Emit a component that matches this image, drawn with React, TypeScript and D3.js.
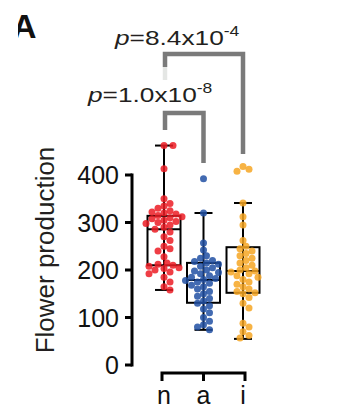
import React, { useEffect, useRef } from 'react'
import * as d3 from 'd3'

// groups and colours
const groups = ['n', 'a', 'i']
const colors = ['#ec1c24', '#2150a3', '#f6a623']

// flower production values
const valuesN = [462, 462, 413, 350, 340, 335, 330, 325, 322, 320, 318, 315, 312, 310, 308, 305, 302, 300, 298, 295, 290, 286, 280, 270, 262, 250, 245, 240, 228, 215, 212, 210, 208, 205, 203, 200, 196, 192, 185, 175, 165, 158]
const valuesA = [392, 320, 257, 242, 230, 225, 220, 218, 215, 212, 208, 205, 200, 198, 195, 192, 188, 185, 182, 180, 178, 175, 172, 168, 165, 160, 155, 150, 145, 140, 135, 130, 125, 118, 110, 100, 92, 85, 80, 74]
const valuesI = [418, 412, 408, 341, 312, 295, 262, 250, 245, 240, 235, 230, 225, 220, 215, 210, 205, 200, 198, 196, 192, 188, 185, 180, 175, 170, 165, 160, 155, 152, 150, 142, 130, 120, 88, 80, 70, 62, 57]

// box stats: [whiskerLow, q1, median, q3, whiskerHigh]
const boxN = [158, 210, 286, 314, 462]
const boxA = [74, 131, 179, 215, 320]
const boxI = [55, 152, 198, 248, 341]

const yTicks = [0, 100, 200, 300, 400]

const W = 338
const H = 409

const App: React.FC = () => {
    const svgRef = useRef<SVGSVGElement | null>(null)

    useEffect(() => {
        if (!svgRef.current) return
        const svg = d3.select(svgRef.current)
        svg.selectAll('*').remove()

        const y = d3.scaleLinear().domain([0, 400]).range([365, 175])
        const x = d3.scalePoint<string>().domain(groups).range([164, 243])
        const allValues = [valuesN, valuesA, valuesI]
        const boxes = [boxN, boxA, boxI]
        const font = 'Liberation Sans, Arial, sans-serif'

        // panel letter, cut at left like the source
        svg.append('clipPath').attr('id', 'clipA').append('rect')
            .attr('x', 18).attr('y', 0).attr('width', 40).attr('height', 50)
        svg.append('text')
            .attr('clip-path', 'url(#clipA)')
            .attr('x', 12).attr('y', 38)
            .attr('font-family', font).attr('font-weight', 'bold')
            .attr('font-size', 34).attr('fill', '#111')
            .text('A')

        // y axis
        const yAxis = svg.append('g')
        yAxis.append('line')
            .attr('x1', 132).attr('x2', 132)
            .attr('y1', y(400) - 1.5).attr('y2', y(0) + 1.5)
            .attr('stroke', '#000').attr('stroke-width', 3)
        yTicks.forEach((t) => {
            yAxis.append('line')
                .attr('x1', 125).attr('x2', 132)
                .attr('y1', y(t)).attr('y2', y(t))
                .attr('stroke', '#000').attr('stroke-width', 3)
            yAxis.append('text')
                .attr('x', 119).attr('y', y(t))
                .attr('dy', '0.36em')
                .attr('text-anchor', 'end')
                .attr('font-family', font).attr('font-size', 25)
                .attr('fill', '#111')
                .text(t)
        })
        svg.append('text')
            .attr('transform', 'translate(54,250) rotate(-90)')
            .attr('text-anchor', 'middle')
            .attr('font-family', font).attr('font-size', 26)
            .attr('fill', '#231f20')
            .text('Flower production')

        // x axis bracket
        const x0 = x('n')! - 2
        const x1 = x('i')! + 2
        svg.append('path')
            .attr('d', `M${x0},381 V373 H${x1} V381 M${x('a')},373 V381`)
            .attr('fill', 'none').attr('stroke', '#000').attr('stroke-width', 3)
        groups.forEach((g) => {
            svg.append('text')
                .attr('x', x(g)!).attr('y', 404)
                .attr('text-anchor', 'middle')
                .attr('font-family', font).attr('font-size', 25)
                .attr('fill', '#111')
                .text(g)
        })

        // boxes
        const bw = 33
        const cap = 18
        boxes.forEach((b, i) => {
            const cx = x(groups[i])!
            const g = svg.append('g')
            g.append('line')
                .attr('x1', cx).attr('x2', cx)
                .attr('y1', y(b[0])).attr('y2', y(b[4]))
                .attr('stroke', '#000').attr('stroke-width', 2)
            ;[b[0], b[4]].forEach((v) => {
                g.append('line')
                    .attr('x1', cx - cap / 2).attr('x2', cx + cap / 2)
                    .attr('y1', y(v)).attr('y2', y(v))
                    .attr('stroke', '#000').attr('stroke-width', 2)
            })
            g.append('rect')
                .attr('x', cx - bw / 2).attr('width', bw)
                .attr('y', y(b[3])).attr('height', y(b[1]) - y(b[3]))
                .attr('fill', 'none').attr('stroke', '#000').attr('stroke-width', 2)
            g.append('line')
                .attr('x1', cx - bw / 2).attr('x2', cx + bw / 2)
                .attr('y1', y(b[2])).attr('y2', y(b[2]))
                .attr('stroke', '#000').attr('stroke-width', 2)
        })

        // beeswarm dots
        const r = 3.5
        allValues.forEach((vals, i) => {
            const cx = x(groups[i])!
            const placed: { px: number; py: number }[] = []
            vals.forEach((v) => {
                const py = y(v)
                let k = 0
                let px = cx
                while (k < 40) {
                    const off = k === 0 ? 0 : Math.ceil(k / 2) * 3 * (k % 2 ? 1 : -1)
                    px = cx + off
                    const hit = placed.some((p) => Math.hypot(p.px - px, p.py - py) < r * 1.8)
                    if (!hit) break
                    k++
                }
                placed.push({ px, py })
            })
            svg.append('g').selectAll('circle')
                .data(placed)
                .join('circle')
                .attr('cx', (d) => d.px)
                .attr('cy', (d) => d.py)
                .attr('r', r)
                .attr('fill', colors[i])
                .attr('fill-opacity', 0.85)
        })

        // significance brackets
        const gray = '#7a7a7a'
        svg.append('path')
            .attr('d', `M${x('n')! + 1},130 V113 H${x('a')} V163`)
            .attr('fill', 'none').attr('stroke', gray).attr('stroke-width', 4.5)
        svg.append('path')
            .attr('d', `M${x('n')! + 1},67 V54 H${x('i')} V154`)
            .attr('fill', 'none').attr('stroke', gray).attr('stroke-width', 4.5)
        svg.append('line')
            .attr('x1', x('n')! + 1).attr('x2', x('n')! + 1)
            .attr('y1', 67).attr('y2', 80)
            .attr('stroke', '#e4e6e4').attr('stroke-width', 4.5)

        const pLabel = (tx: number, ty: number, main: string, sup: string) => {
            const t = svg.append('text')
                .attr('transform', `translate(${tx},${ty}) scale(1.25,1)`)
                .attr('font-family', font).attr('font-size', 21)
                .attr('fill', '#231f20')
            t.append('tspan').attr('font-style', 'italic').text('p')
            t.append('tspan').text(main)
            t.append('tspan').attr('font-size', 14).attr('dy', -9).text(sup)
        }
        pLabel(115, 45, '=8.4x10', '-4')
        pLabel(88, 102, '=1.0x10', '-8')
    }, [])

    return (
        <svg
            ref={svgRef}
            width={W}
            height={H}
            style={{ position: 'absolute', left: 0, top: 0, background: '#fff' }}
        ></svg>
    )
}

export default App
